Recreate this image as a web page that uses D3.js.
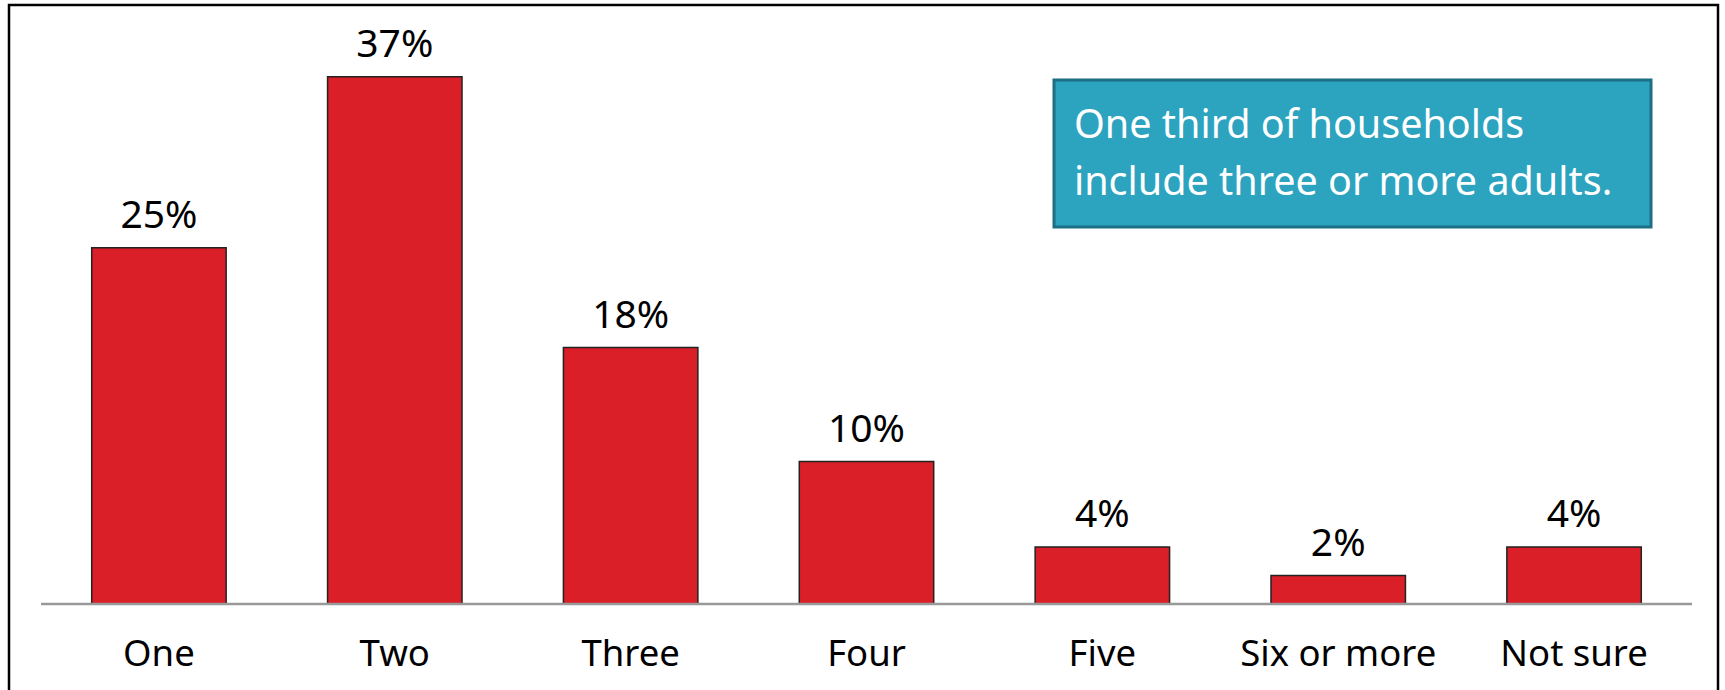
<!DOCTYPE html>
<html>
<head>
<meta charset="utf-8">
<script src="https://cdn.jsdelivr.net/npm/d3@7"></script>
<style>
  body { margin: 0; background: #fff; }
  svg { display: block; }
</style>
</head>
<body>
<div class="chart"></div>
<script>
// data
const categories = ["One", "Two", "Three", "Four", "Five", "Six or more", "Not sure"];
const shares = [25, 37, 18, 10, 4, 2, 4];
const noteLines = ["One third of households", "include three or more adults."];

const width = 1725, height = 690;
const fontFamily = "'Noto Sans', 'DejaVu Sans', sans-serif";

const svg = d3.select("div.chart")
    .append("svg")
    .attr("width", width)
    .attr("height", height);

// outer frame (bottom edge falls off the picture)
svg.append("rect")
    .attr("x", 9).attr("y", 5)
    .attr("width", 1709).attr("height", 720)
    .attr("fill", "none")
    .attr("stroke", "#000")
    .attr("stroke-width", 2.5);

const x = d3.scaleBand()
    .domain(categories)
    .range([41, 1692])
    .paddingInner(0.43)
    .paddingOuter(0.215);

const y = d3.scaleLinear()
    .domain([0, 40])
    .range([604, 34]);

// bars
svg.selectAll("rect.bar")
    .data(shares)
    .enter()
    .append("rect")
    .attr("class", "bar")
    .attr("x", (d, i) => x(categories[i]))
    .attr("y", d => y(d))
    .attr("width", x.bandwidth())
    .attr("height", d => y(0) - y(d))
    .attr("fill", "#DA1F28")
    .attr("stroke", "#222")
    .attr("stroke-width", 1.5);

// baseline
svg.append("line")
    .attr("x1", x.range()[0]).attr("x2", x.range()[1])
    .attr("y1", y(0)).attr("y2", y(0))
    .attr("stroke", "#999")
    .attr("stroke-width", 2.5);

// value labels
svg.selectAll("text.value")
    .data(shares)
    .enter()
    .append("text")
    .attr("class", "value")
    .attr("x", (d, i) => x(categories[i]) + x.bandwidth() / 2)
    .attr("y", d => y(d) - 20)
    .attr("text-anchor", "middle")
    .style("font-family", fontFamily)
    .style("font-size", "39px")
    .attr("fill", "#000")
    .text(d => d + "%");

// category labels
svg.selectAll("text.cat")
    .data(categories)
    .enter()
    .append("text")
    .attr("class", "cat")
    .attr("x", d => x(d) + x.bandwidth() / 2)
    .attr("y", 666)
    .attr("text-anchor", "middle")
    .style("font-family", fontFamily)
    .style("font-size", "36.5px")
    .attr("fill", "#000")
    .text(d => d);

// callout box
const note = svg.append("g");
note.append("rect")
    .attr("x", 1054).attr("y", 80)
    .attr("width", 597).attr("height", 147)
    .attr("fill", "#2CA3BF")
    .attr("stroke", "#1D6F84")
    .attr("stroke-width", 3);

note.selectAll("text")
    .data(noteLines)
    .enter()
    .append("text")
    .attr("x", 1074)
    .attr("y", (d, i) => 138 + i * 57)
    .style("font-family", fontFamily)
    .style("font-size", "39.5px")
    .attr("fill", "#fff")
    .text(d => d);
</script>
</body>
</html>
